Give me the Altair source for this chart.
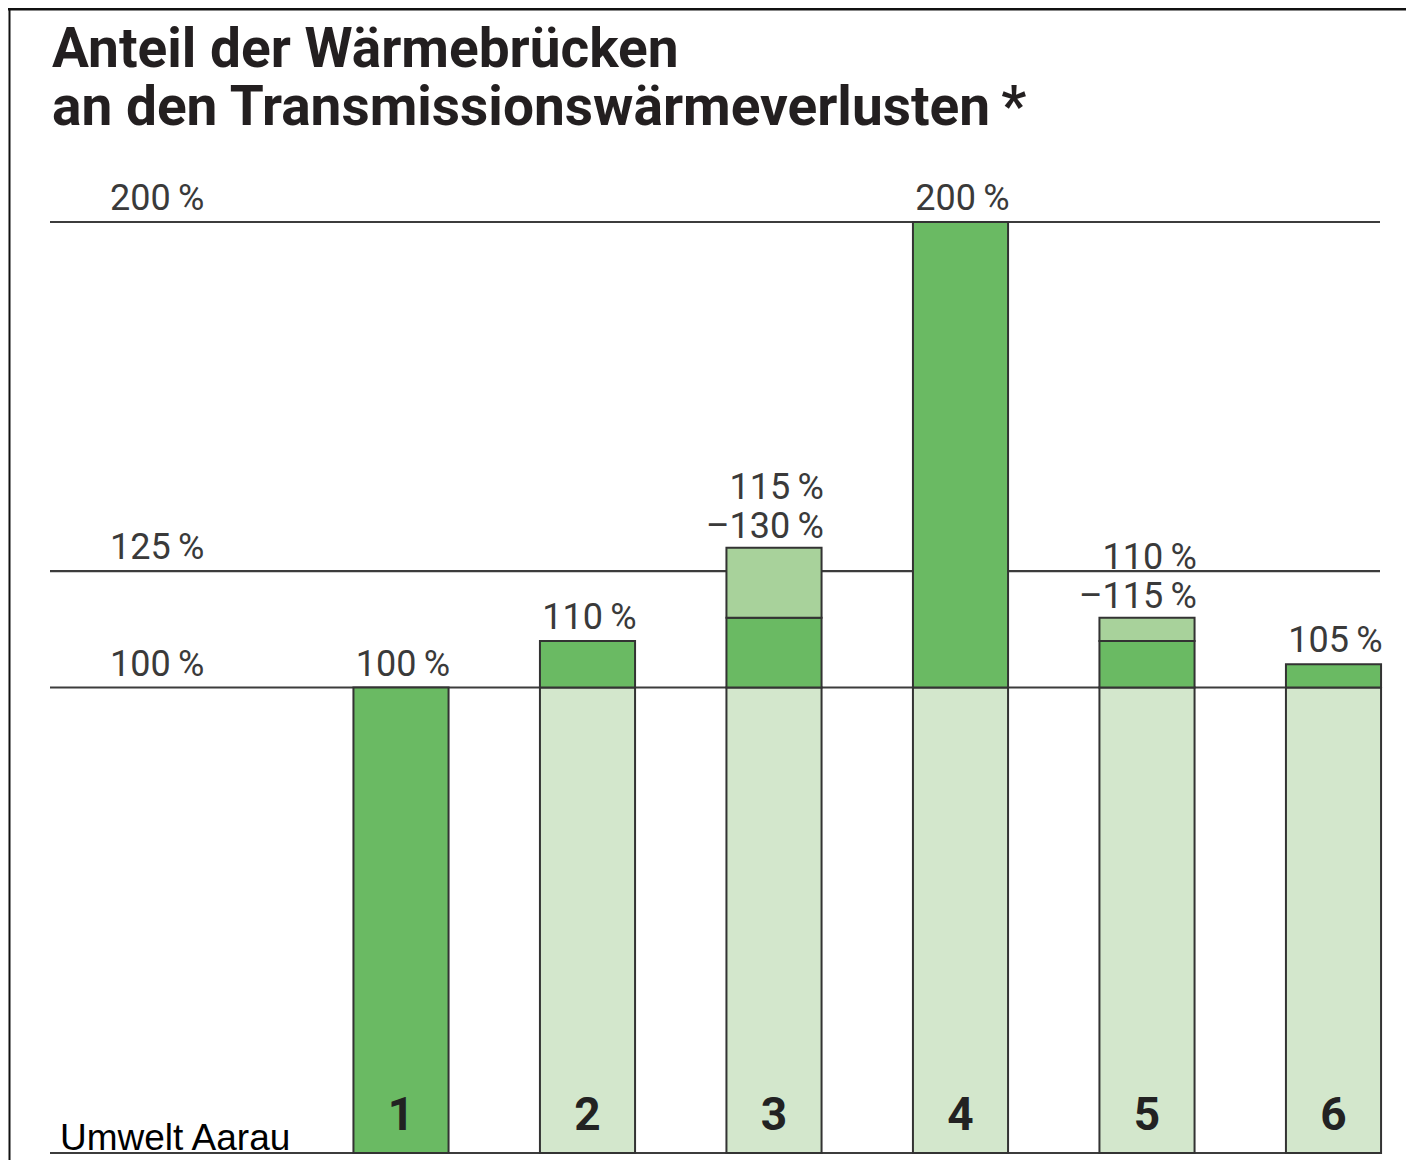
import altair as alt
import pandas as pd

# ---- data ----
bars = ["1", "2", "3", "4", "5", "6"]
base_kind = ["dunkel", "hell", "hell", "hell", "hell", "hell"]
base_values = [100, 100, 100, 100, 100, 100]
low_values = [100, 110, 115, 200, 110, 105]
high_values = [None, None, 130, None, 115, None]
single_labels = ["100\u2009%", "110\u2009%", None, "200\u2009%", None, "105\u2009%"]
range_labels_top = [None, None, "115\u2009%", None, "110\u2009%", None]
range_labels_bottom = [None, None, "\u2013130\u2009%", None, "\u2013115\u2009%", None]
ref_values = [100, 125, 200]
ref_labels = ["100\u2009%", "125\u2009%", "200\u2009%"]
title_lines = ["Anteil der Wärmebrücken", "an den Transmissionswärmeverlusten\u2009*"]
source_note = "Umwelt Aarau"

kinds = ["hell", "dunkel", "mittel"]
kind_colors = ["#d3e7cc", "#6aba63", "#a8d29b"]

# ---- tables ----
seg_rows = []
for b, bk, bv, lo, hi in zip(bars, base_kind, base_values, low_values, high_values):
    seg_rows.append({"bar": b, "start": 0, "end": bv, "kind": bk})
    if lo > bv:
        seg_rows.append({"bar": b, "start": bv, "end": lo, "kind": "dunkel"})
    if hi is not None:
        seg_rows.append({"bar": b, "start": lo, "end": hi, "kind": "mittel"})
segments = pd.DataFrame(seg_rows)

single = pd.DataFrame(
    [{"bar": b, "v": lo, "text": t} for b, lo, t in zip(bars, low_values, single_labels) if t]
)
ranged = pd.DataFrame(
    [
        {"bar": b, "v": hi, "top": t, "bottom": bt}
        for b, hi, t, bt in zip(bars, high_values, range_labels_top, range_labels_bottom)
        if t
    ]
)
refs = pd.DataFrame({"v": ref_values, "label": ref_labels})
rules = pd.DataFrame({"v": [0] + ref_values})
numbers = pd.DataFrame({"bar": bars, "v": [0] * len(bars)})
note = pd.DataFrame({"text": [source_note], "v": [0]})
title1 = pd.DataFrame({"text": [title_lines[0]]})
title2 = pd.DataFrame({"text": [title_lines[1]]})

# ---- scales ----
xscale = alt.Scale(domain=bars, range=[299.75, 1418.75], paddingInner=0.49, paddingOuter=0.245)
yscale = alt.Scale(domain=[0, 200], range=[1003, 72])

FONT = "Roboto"
TXT = "#3a3a3a"
LBL = dict(font=FONT, fontWeight=400, fontSize=36, color=TXT, baseline="alphabetic")

rule_layer = alt.Chart(rules).mark_rule(color="#3c3c3c", strokeWidth=2.2).encode(
    y=alt.Y("v:Q", scale=yscale, axis=None),
    x=alt.value(42),
    x2=alt.value(1372),
)

bar_layer = alt.Chart(segments).mark_bar(stroke="#333333", strokeWidth=2).encode(
    x=alt.X("bar:N", scale=xscale, axis=None),
    y=alt.Y("start:Q", scale=yscale, axis=None),
    y2="end:Q",
    color=alt.Color("kind:N", scale=alt.Scale(domain=kinds, range=kind_colors), legend=None),
)

ref_text = alt.Chart(refs).mark_text(align="left", dy=-12, **LBL).encode(
    x=alt.value(102), y=alt.Y("v:Q", scale=yscale, axis=None), text="label:N"
)

single_text = alt.Chart(single).mark_text(align="center", dx=2, dy=-12, **LBL).encode(
    x=alt.X("bar:N", scale=xscale, axis=None),
    y=alt.Y("v:Q", scale=yscale, axis=None),
    text="text:N",
)

range_bottom = alt.Chart(ranged).mark_text(align="right", dx=50, dy=-10, **LBL).encode(
    x=alt.X("bar:N", scale=xscale, axis=None),
    y=alt.Y("v:Q", scale=yscale, axis=None),
    text="bottom:N",
)
range_top = alt.Chart(ranged).mark_text(align="right", dx=50, dy=-49, **LBL).encode(
    x=alt.X("bar:N", scale=xscale, axis=None),
    y=alt.Y("v:Q", scale=yscale, axis=None),
    text="top:N",
)

number_text = alt.Chart(numbers).mark_text(
    align="center", baseline="alphabetic", dy=-23, font=FONT, fontWeight="bold", fontSize=46, color="#222222"
).encode(
    x=alt.X("bar:N", scale=xscale, axis=None),
    y=alt.Y("v:Q", scale=yscale, axis=None),
    text="bar:N",
)

note_text = alt.Chart(note).mark_text(
    align="left", baseline="alphabetic", dy=-3, font="Liberation Sans", fontSize=37, color="#000000"
).encode(x=alt.value(52), y=alt.Y("v:Q", scale=yscale, axis=None), text="text:N")

TITLE = dict(align="left", baseline="alphabetic", font=FONT, fontSize=55, fontWeight="bold", color="#231f20")
title_l1 = alt.Chart(title1).mark_text(**TITLE).encode(x=alt.value(44), y=alt.value(-83), text="text:N")
title_l2 = alt.Chart(title2).mark_text(**TITLE).encode(x=alt.value(44), y=alt.value(-25), text="text:N")

frame_src = pd.DataFrame({"k": [0]})
frame_top = alt.Chart(frame_src).mark_rule(color="#111111", strokeWidth=3).encode(
    x=alt.value(0), x2=alt.value(1398), y=alt.value(-141)
)
frame_left = alt.Chart(frame_src).mark_rule(color="#111111", strokeWidth=2).encode(
    x=alt.value(1.5), y=alt.value(-142), y2=alt.value(1010)
)

chart = (
    alt.layer(
        rule_layer, bar_layer, ref_text, single_text, range_bottom, range_top,
        number_text, note_text, title_l1, title_l2, frame_top, frame_left,
    )
    .properties(
        width=1398,
        height=1010,
        autosize=alt.AutoSizeParams(type="none"),
        padding={"left": 0, "top": 142, "right": 0, "bottom": 0},
        background="white",
    )
    .configure_view(stroke=None)
)

chart.save("out.html", embed_options={"renderer": "svg", "actions": False})
